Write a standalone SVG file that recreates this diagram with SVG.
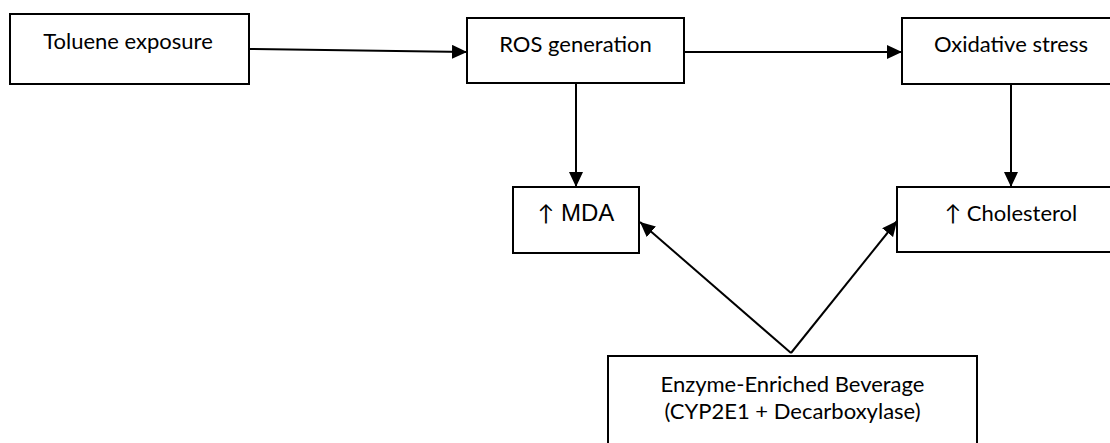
<svg xmlns="http://www.w3.org/2000/svg" width="1110" height="443" viewBox="0 0 1110 443">
<style>
.box{fill:#fff;stroke:#000;stroke-width:2}
.t{font-family:Lato,"Open Sans",sans-serif;font-size:22px;fill:#000;text-anchor:middle}
.a{font-family:"Liberation Sans",Arial,sans-serif;font-size:24px;fill:#000;text-anchor:middle}
.ar{font-family:Lato,sans-serif;font-size:22px}
.c{stroke:#000;stroke-width:2;fill:none;marker-end:url(#ah)}
</style>
<defs>
<marker id="ah" markerWidth="16" markerHeight="14" refX="15" refY="7" orient="auto" markerUnits="userSpaceOnUse">
<path d="M0,0 L15,7 L0,14 Z" fill="#000"/>
</marker>
</defs>
<rect width="1110" height="443" fill="#fff"/>
<g id="connectors">
<line class="c" x1="249" y1="49" x2="467" y2="52"/>
<line class="c" x1="684" y1="52" x2="902" y2="52"/>
<line class="c" x1="576" y1="83" x2="576" y2="187"/>
<line class="c" x1="1011" y1="84" x2="1011" y2="187"/>
<line class="c" x1="791" y1="353" x2="640" y2="222"/>
<line class="c" x1="791" y1="353" x2="897" y2="221"/>
</g>
<g id="toluene">
<rect class="box" x="10" y="14" width="239" height="70"/>
<text class="t" x="128" y="49">Toluene exposure</text>
</g>
<g id="ros">
<rect class="box" x="467" y="18" width="217" height="65"/>
<text class="t" x="575.5" y="52">ROS generation</text>
</g>
<g id="oxidative">
<rect class="box" x="902" y="18" width="220" height="66"/>
<text class="t" x="1011" y="52">Oxidative stress</text>
</g>
<g id="mda">
<rect class="box" x="513" y="187" width="126" height="66"/>
<text class="a" x="576" y="221"><tspan class="ar">↑</tspan> MDA</text>
</g>
<g id="cholesterol">
<rect class="box" x="897" y="187" width="228" height="65"/>
<text class="t" x="1011" y="221">↑ Cholesterol</text>
</g>
<g id="beverage">
<rect class="box" x="608" y="356" width="369" height="110"/>
<text class="t" x="792.5" y="392">Enzyme-Enriched Beverage</text>
<text class="t" x="792.5" y="419">(CYP2E1 + Decarboxylase)</text>
</g>
</svg>
